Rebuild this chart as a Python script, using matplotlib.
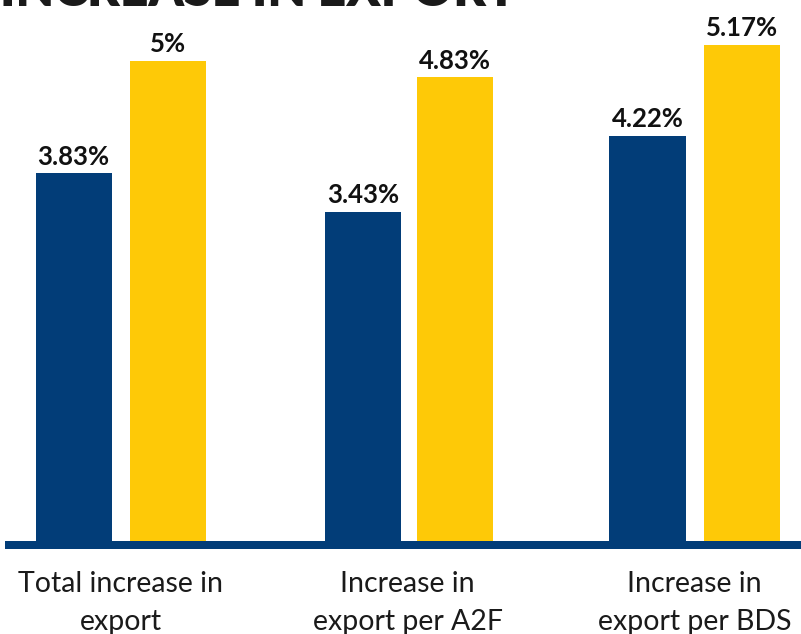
import matplotlib
matplotlib.use("Agg")
import matplotlib.pyplot as plt
from matplotlib.lines import Line2D

categories = ["Total increase in\nexport", "Increase in\nexport per A2F", "Increase in\nexport per BDS"]
series_a = [3.83, 3.43, 4.22]
series_b = [5.00, 4.83, 5.17]
labels_a = ["3.83%", "3.43%", "4.22%"]
labels_b = ["5%", "4.83%", "5.17%"]

NAVY = "#023d78"
YELLOW = "#fec907"

W, H = 801, 634
fig = plt.figure(figsize=(W / 100, H / 100), dpi=100)
base_px = 541
ax = fig.add_axes([0, (H - base_px) / H, 1, base_px / H])
ax.set_xlim(-0.42, 2.371)
ax.set_ylim(0, base_px / 96.0)
ax.axis("off")

x = list(range(len(categories)))
w = 0.265
off = 0.1638
xa = [i - off + (0.01 if i == 1 else 0) for i in x]
xb = [i + off for i in x]
ax.bar(xa, series_a, width=w, color=NAVY)
ax.bar(xb, series_b, width=w, color=YELLOW)

fam = ["Lato", "DejaVu Sans"]
for xi, v, t in zip(xa, series_a, labels_a):
    ax.text(xi, v + 0.05, t, ha="center", va="bottom", fontsize=18.5, fontweight="bold", family=fam, color="#111111")
for xi, v, t in zip(xb, series_b, labels_b):
    ax.text(xi, v + 0.05, t, ha="center", va="bottom", fontsize=18.5, fontweight="bold", family=fam, color="#111111")

# baseline bar
fig.add_artist(Line2D([5 / W, 1.0], [1 - 545 / H, 1 - 545 / H], transform=fig.transFigure,
                      color=NAVY, linewidth=8 * 0.72, solid_capstyle="butt"))

for xi, c in zip(x, categories):
    ax.text(xi, -(603 - base_px) / 96.0, c, ha="center", va="center", fontsize=20.5,
            fontweight="normal", family=fam, color="#1a1a1a", linespacing=1.6, clip_on=False)

fig.text(0.0, 1 - 6 / H, "INCREASE IN EXPORT", ha="left", va="baseline", fontsize=36,
         fontweight="heavy", family=fam, color="#1a1a1a")

fig.savefig("out.png", dpi=100)
